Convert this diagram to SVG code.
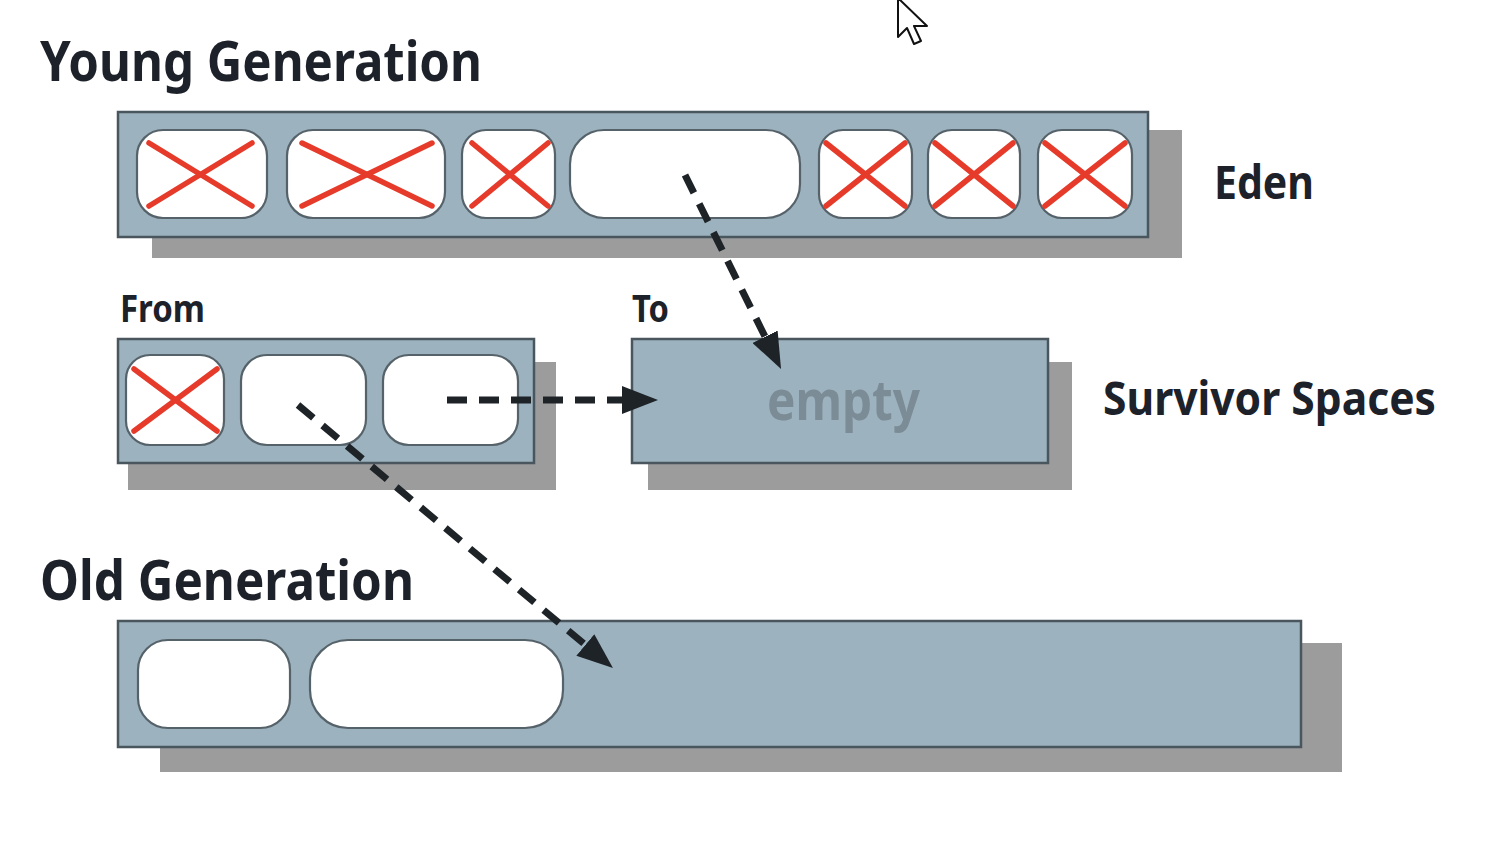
<svg xmlns="http://www.w3.org/2000/svg" width="1508" height="844" viewBox="0 0 1508 844">
<style>
.shadow{fill:#9c9c9c}
.box{fill:#9cb2be;stroke:#4a565e;stroke-width:2.5}
.cell{fill:#ffffff;stroke:#56626a;stroke-width:2.2}
.x{stroke:#e63b2a;stroke-width:5.5;stroke-linecap:round}
.title{font-family:"Noto Sans","Open Sans","Liberation Sans",sans-serif;font-weight:bold;fill:#1d2129}
.conn{fill:none;stroke:#1e2328;stroke-width:7;stroke-dasharray:20 12}
</style>
<defs>
<marker id="arrow" markerUnits="userSpaceOnUse" viewBox="0 0 36 28" refX="10" refY="14" markerWidth="36" markerHeight="28" orient="auto">
<path d="M0,0 L36,14 L0,28 z" fill="#1e2328"/>
</marker>
</defs>
<rect width="1508" height="844" fill="#ffffff"/>

<g id="young-title"><text class="title" x="40" y="81" font-size="56" textLength="442" lengthAdjust="spacingAndGlyphs">Young Generation</text></g>

<g id="eden">
<rect class="shadow" x="152" y="130" width="1030" height="128"/>
<rect class="box" x="118" y="112" width="1030" height="125"/>
<rect class="cell" x="137" y="130" width="130" height="88" rx="26"/>
<line class="x" x1="149" y1="143" x2="252" y2="206"/><line class="x" x1="252" y1="143" x2="149" y2="206"/>
<rect class="cell" x="287" y="130" width="158" height="88" rx="26"/>
<line class="x" x1="302" y1="143" x2="432" y2="206"/><line class="x" x1="432" y1="143" x2="302" y2="206"/>
<rect class="cell" x="462" y="130" width="93" height="88" rx="24"/>
<line class="x" x1="472" y1="143" x2="548" y2="206"/><line class="x" x1="548" y1="143" x2="472" y2="206"/>
<rect class="cell" x="570" y="130" width="230" height="88" rx="34"/>
<rect class="cell" x="819" y="130" width="93" height="88" rx="24"/>
<line class="x" x1="826" y1="143" x2="905" y2="206"/><line class="x" x1="905" y1="143" x2="826" y2="206"/>
<rect class="cell" x="928" y="130" width="92" height="88" rx="24"/>
<line class="x" x1="935" y1="143" x2="1013" y2="206"/><line class="x" x1="1013" y1="143" x2="935" y2="206"/>
<rect class="cell" x="1038" y="130" width="94" height="88" rx="24"/>
<line class="x" x1="1045" y1="143" x2="1125" y2="206"/><line class="x" x1="1125" y1="143" x2="1045" y2="206"/>
<text class="title" x="1214" y="199" font-size="46" textLength="100" lengthAdjust="spacingAndGlyphs">Eden</text>
</g>

<g id="from">
<text class="title" x="120" y="322" font-size="38" textLength="85" lengthAdjust="spacingAndGlyphs">From</text>
<rect class="shadow" x="128" y="362" width="428" height="128"/>
<rect class="box" x="118" y="339" width="416" height="124"/>
<rect class="cell" x="126" y="355" width="98" height="90" rx="24"/>
<line class="x" x1="134" y1="369" x2="217" y2="431"/><line class="x" x1="217" y1="369" x2="134" y2="431"/>
<rect class="cell" x="241" y="355" width="125" height="90" rx="26"/>
<rect class="cell" x="383" y="355" width="135" height="90" rx="26"/>
</g>

<g id="to">
<text class="title" x="632" y="322" font-size="38" textLength="37" lengthAdjust="spacingAndGlyphs">To</text>
<rect class="shadow" x="648" y="362" width="424" height="128"/>
<rect class="box" x="632" y="339" width="416" height="124"/>
<text class="title" x="767" y="420" font-size="56" textLength="153" lengthAdjust="spacingAndGlyphs" style="fill:#7b8c96">empty</text>
</g>

<g id="survivor-label"><text class="title" x="1103" y="415" font-size="46" textLength="333" lengthAdjust="spacingAndGlyphs">Survivor Spaces</text></g>

<g id="old">
<text class="title" x="40" y="600" font-size="56" textLength="374" lengthAdjust="spacingAndGlyphs">Old Generation</text>
<rect class="shadow" x="160" y="643" width="1182" height="129"/>
<rect class="box" x="118" y="621" width="1183" height="126"/>
<rect class="cell" x="138" y="640" width="152" height="88" rx="30"/>
<rect class="cell" x="310" y="640" width="253" height="88" rx="38"/>
</g>

<g id="connectors">
<path class="conn" d="M685,175 L769.5,345.7" marker-end="url(#arrow)"/>
<path class="conn" d="M447,400 L632,400" marker-end="url(#arrow)"/>
<path class="conn" d="M298,405 L593,651.3" marker-end="url(#arrow)"/>
</g>

<g id="cursor">
<path d="M898,-2 L898,37 L907,28 L914,44 L921,41 L914,26 L927,26 z" fill="#ffffff" stroke="#111111" stroke-width="2" stroke-linejoin="round"/>
</g>
</svg>
